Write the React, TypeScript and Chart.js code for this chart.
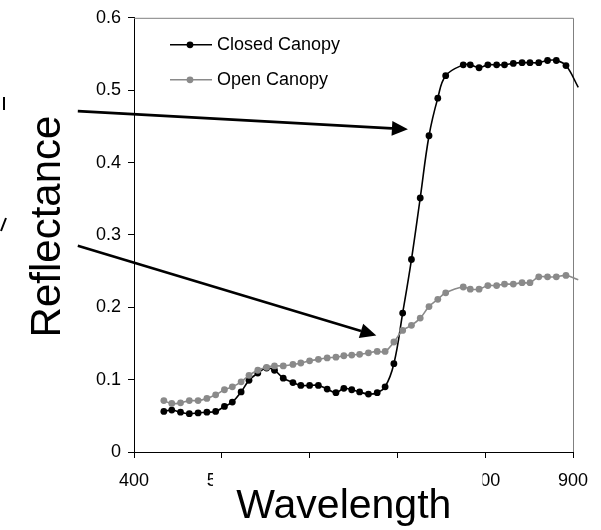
import React, { useEffect, useRef } from "react";
import { Chart, registerables } from "chart.js";

Chart.register(...registerables);

// Spectral samples (nm) — the last sample sits just past the axis end and has no marker
const wavelengths = [
  434, 443, 453, 463, 473, 483, 493, 503, 512, 522, 531, 541, 551, 560, 570, 581,
  590, 600, 610, 620, 630, 639, 648, 657, 667, 677, 686, 696, 706, 716, 726, 736,
  746, 755, 775, 783, 793, 803, 813, 822, 832, 842, 851, 861, 871, 881, 892, 906,
];

const closedCanopy = [
  0.056, 0.058, 0.055, 0.053, 0.054, 0.055, 0.056, 0.063, 0.069, 0.083, 0.099, 0.109,
  0.116, 0.113, 0.102, 0.096, 0.092, 0.092, 0.092, 0.087, 0.082, 0.088, 0.086, 0.083,
  0.080, 0.082, 0.090, 0.122, 0.192, 0.266, 0.351, 0.437, 0.489, 0.520, 0.535, 0.535,
  0.531, 0.535, 0.535, 0.535, 0.537, 0.538, 0.538, 0.538, 0.541, 0.541, 0.534, 0.504,
];

const openCanopy = [
  0.071, 0.067, 0.068, 0.071, 0.071, 0.074, 0.079, 0.086, 0.090, 0.097, 0.106, 0.113,
  0.117, 0.119, 0.119, 0.121, 0.123, 0.126, 0.128, 0.130, 0.131, 0.133, 0.134, 0.135,
  0.137, 0.139, 0.139, 0.152, 0.168, 0.175, 0.185, 0.201, 0.211, 0.220, 0.228, 0.225,
  0.225, 0.230, 0.230, 0.232, 0.232, 0.234, 0.234, 0.242, 0.242, 0.242, 0.244, 0.238,
];

const seriesNames = ["Closed Canopy", "Open Canopy"];
const xTickValues = [400, 500, 600, 700, 800, 900];
const yTickValues = [0, 0.1, 0.2, 0.3, 0.4, 0.5, 0.6];
const xTitle = "Wavelength";
const yTitle = "Reflectance";

// Callout arrows, in data units: [wavelength, reflectance]
const arrowFrom = [
  [336, 0.471],
  [336, 0.285],
];
const arrowTo = [
  [712, 0.446],
  [676, 0.161],
];

const FONT = "'Liberation Sans', Arial, Helvetica, sans-serif";
const BLACK = "#000000";
const GREY = "#8a8a8a";
const FRAME_GREY = "#808080";

const decorations = {
  id: "decorations",
  beforeDatasetsDraw(chart: any) {
    const ctx = chart.ctx as CanvasRenderingContext2D;
    const { left, right, top, bottom } = chart.chartArea;
    ctx.save();
    ctx.strokeStyle = FRAME_GREY;
    ctx.lineWidth = 1;
    ctx.beginPath();
    ctx.moveTo(left, top + 0.5);
    ctx.lineTo(right + 0.5, top + 0.5);
    ctx.lineTo(right + 0.5, bottom);
    ctx.stroke();
    ctx.restore();
  },
  afterDraw(chart: any) {
    const ctx = chart.ctx as CanvasRenderingContext2D;
    const { left, top, bottom } = chart.chartArea;
    const xs = chart.scales.x;
    const ys = chart.scales.y;
    const W = chart.width;
    const H = chart.height;
    ctx.save();

    // legend
    const colors = [BLACK, GREY];
    seriesNames.forEach((name, i) => {
      const y = top + 27 + i * 35;
      ctx.strokeStyle = colors[i];
      ctx.fillStyle = colors[i];
      ctx.lineWidth = 1.5;
      ctx.beginPath();
      ctx.moveTo(left + 36, y);
      ctx.lineTo(left + 78, y);
      ctx.stroke();
      ctx.beginPath();
      ctx.arc(left + 56, y, 3.4, 0, Math.PI * 2);
      ctx.fill();
      ctx.fillStyle = BLACK;
      ctx.font = `18px ${FONT}`;
      ctx.textAlign = "left";
      ctx.textBaseline = "alphabetic";
      ctx.fillText(name, left + 83, y + 5);
    });

    // callout arrows
    ctx.strokeStyle = BLACK;
    ctx.fillStyle = BLACK;
    arrowFrom.forEach((from, i) => {
      const x1 = xs.getPixelForValue(from[0]);
      const y1 = ys.getPixelForValue(from[1]);
      const x2 = xs.getPixelForValue(arrowTo[i][0]);
      const y2 = ys.getPixelForValue(arrowTo[i][1]);
      const ang = Math.atan2(y2 - y1, x2 - x1);
      const headLen = 16;
      const headHalf = 7.5;
      const bx = x2 - headLen * Math.cos(ang);
      const by = y2 - headLen * Math.sin(ang);
      ctx.lineWidth = 2.6;
      ctx.beginPath();
      ctx.moveTo(x1, y1);
      ctx.lineTo(bx, by);
      ctx.stroke();
      ctx.beginPath();
      ctx.moveTo(x2, y2);
      ctx.lineTo(bx + headHalf * Math.sin(ang), by - headHalf * Math.cos(ang));
      ctx.lineTo(bx - headHalf * Math.sin(ang), by + headHalf * Math.cos(ang));
      ctx.closePath();
      ctx.fill();
    });

    // small strokes at the left edge
    ctx.lineWidth = 2;
    ctx.beginPath();
    ctx.moveTo(4, 97);
    ctx.lineTo(4, 110);
    ctx.moveTo(1, 231);
    ctx.lineTo(6, 218);
    ctx.stroke();

    // x title sits on a white box that hides part of the tick labels
    const maskL = xs.getPixelForValue(490);
    const maskR = xs.getPixelForValue(797);
    ctx.fillStyle = "#ffffff";
    ctx.fillRect(maskL, bottom + 7, maskR - maskL, H - bottom - 7);
    ctx.fillStyle = BLACK;
    ctx.font = `41px ${FONT}`;
    ctx.textAlign = "center";
    ctx.textBaseline = "alphabetic";
    ctx.fillText(xTitle, xs.getPixelForValue(639), 518);

    // y title
    ctx.save();
    ctx.translate(60, 226.5);
    ctx.rotate(-Math.PI / 2);
    ctx.font = `42px ${FONT}`;
    ctx.textAlign = "center";
    ctx.textBaseline = "alphabetic";
    ctx.fillText(yTitle, 0, 0);
    ctx.restore();

    ctx.restore();
  },
};

export default function App() {
  const ref = useRef<HTMLCanvasElement>(null);

  useEffect(() => {
    document.body.style.margin = "0";
    const canvas = ref.current;
    if (!canvas) return;

    const pointSizes = wavelengths.map((w) => (w > 900 ? 0 : 3.4));

    const chart = new Chart(canvas, {
      type: "line",
      data: {
        datasets: [
          {
            label: seriesNames[1],
            data: wavelengths.map((x, i) => ({ x, y: openCanopy[i] })),
            borderColor: GREY,
            backgroundColor: GREY,
            pointBackgroundColor: GREY,
            pointBorderColor: GREY,
            borderWidth: 1.6,
            pointRadius: pointSizes,
            pointBorderWidth: 0,
            tension: 0.4,
            clip: false,
            order: 0,
          },
          {
            label: seriesNames[0],
            data: wavelengths.map((x, i) => ({ x, y: closedCanopy[i] })),
            borderColor: BLACK,
            backgroundColor: BLACK,
            pointBackgroundColor: BLACK,
            pointBorderColor: BLACK,
            borderWidth: 1.6,
            pointRadius: pointSizes,
            pointBorderWidth: 0,
            tension: 0.4,
            clip: false,
            order: 1,
          },
        ],
      },
      options: {
        responsive: false,
        animation: false,
        devicePixelRatio: 1,
        events: [],
        layout: { padding: { top: 16, right: 28, bottom: 0, left: 0 } },
        elements: { line: { capBezierPoints: false } },
        plugins: {
          legend: { display: false },
          tooltip: { enabled: false },
        },
        scales: {
          x: {
            type: "linear",
            min: 400,
            max: 900,
            afterFit: (s: any) => {
              s.height = 78;
            },
            afterBuildTicks: (s: any) => {
              s.ticks = xTickValues.map((v) => ({ value: v }));
            },
            ticks: {
              color: BLACK,
              padding: 12,
              maxRotation: 0,
              autoSkip: false,
              font: { family: FONT, size: 18 },
              callback: (v: any) => String(v),
            },
            grid: {
              display: true,
              drawOnChartArea: false,
              drawTicks: true,
              tickLength: 6,
              color: BLACK,
            },
            border: { display: true, color: BLACK, width: 1 },
          },
          y: {
            type: "linear",
            min: 0,
            max: 0.6,
            afterFit: (s: any) => {
              s.width = 134;
            },
            afterBuildTicks: (s: any) => {
              s.ticks = yTickValues.map((v) => ({ value: v }));
            },
            ticks: {
              color: BLACK,
              padding: 7,
              autoSkip: false,
              font: { family: FONT, size: 18 },
              callback: (v: any) => String(Math.round(v * 10) / 10),
            },
            grid: {
              display: true,
              drawOnChartArea: false,
              drawTicks: true,
              tickLength: 6,
              color: BLACK,
            },
            border: { display: true, color: BLACK, width: 1 },
          },
        },
      },
      plugins: [decorations],
    });

    return () => chart.destroy();
  }, []);

  return (
    <canvas
      ref={ref}
      width={601}
      height={530}
      style={{ display: "block", width: 601, height: 530 }}
    />
  );
}
